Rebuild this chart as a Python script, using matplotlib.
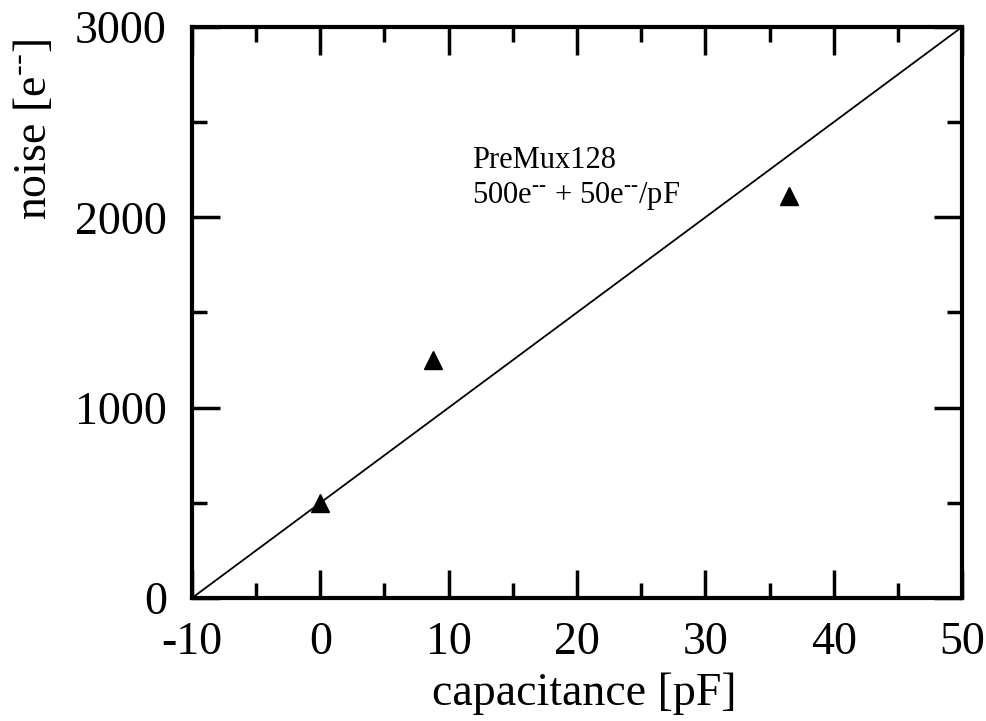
import matplotlib
matplotlib.use("Agg")
import matplotlib.pyplot as plt
from matplotlib.ticker import MultipleLocator

plt.rcParams['font.family'] = ['Liberation Serif', 'DejaVu Serif']
plt.rcParams['mathtext.fontset'] = 'custom'
plt.rcParams['mathtext.rm'] = 'Liberation Serif'
plt.rcParams['axes.unicode_minus'] = False

# measured points
cap = [0, 8.8, 36.5]
noise = [500, 1250, 2110]

# fit line: 500 e- + 50 e-/pF
fit_x = [-10, 50]
fit_y = [500 + 50 * c for c in fit_x]

fig = plt.figure(figsize=(9.86, 7.21), dpi=100)
ax = fig.add_axes([0.1947, 0.1706, 0.781, 0.792])

ax.plot(fit_x, fit_y, color='black', linewidth=1.3)
ax.plot(cap, noise, linestyle='none', marker='^', color='black', markersize=13)

ax.set_xlim(-10, 50)
ax.set_ylim(0, 3000)
ax.xaxis.set_major_locator(MultipleLocator(10))
ax.xaxis.set_minor_locator(MultipleLocator(5))
ax.yaxis.set_major_locator(MultipleLocator(1000))
ax.yaxis.set_minor_locator(MultipleLocator(500))
ax.tick_params(which='both', direction='in', top=True, right=True, width=2.5, labelsize=33)
ax.tick_params(axis='x', which='major', pad=17)
ax.tick_params(axis='y', which='major', pad=18)
ax.tick_params(which='major', length=20)
ax.tick_params(which='minor', length=11)
for s in ax.spines.values():
    s.set_linewidth(3)

dash = r'$^{\text{--}}$'
ax.set_xlabel('capacitance [pF]', fontsize=33, labelpad=6)
ax.xaxis.label.set_x(0.51)
ax.set_ylabel('noise [e' + dash + ']', fontsize=33, labelpad=14)
ax.yaxis.label.set_y(0.82)

ax.text(11.8, 2300, 'PreMux128', fontsize=22, va='center', ha='left')
ax.text(11.8, 2110, '500e' + dash + ' + 50e' + dash + '/pF', fontsize=22, va='center', ha='left')

fig.savefig('out.png', dpi=100)
